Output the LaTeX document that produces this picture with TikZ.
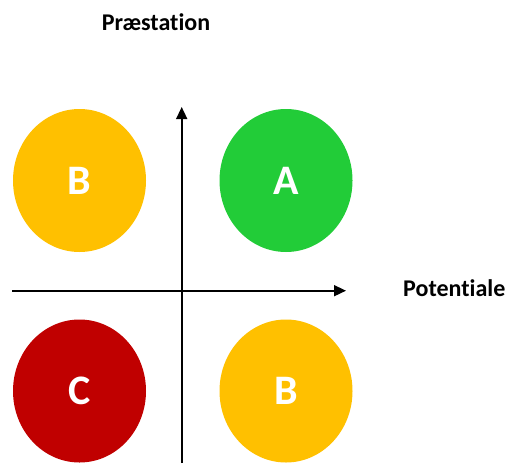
\documentclass[tikz,border=0pt]{standalone}
\usepackage{fontspec}
\setmainfont{Carlito}[Ligatures=NoCommon]
\usetikzlibrary{arrows.meta,shapes.geometric}
\definecolor{cyellow}{RGB}{255,192,0}
\definecolor{cgreen}{RGB}{34,204,56}
\definecolor{cred}{RGB}{192,0,0}
\tikzset{
  blob/.style={ellipse, minimum width=133pt, minimum height=143pt, inner sep=0pt, text=white, font=\bfseries\fontsize{42}{42}\selectfont},
  axis/.style={line width=1.6pt, -{Triangle[length=12pt,width=11pt]}},
  axlabel/.style={font=\bfseries\fontsize{24}{24}\selectfont, text=black, inner sep=0pt}
}
\begin{document}
\begin{tikzpicture}[x=1pt,y=-1pt]
\useasboundingbox (0,0) rectangle (508,463);
\node[blob, fill=cyellow] (b1) at (79.5,180.5) {B};
\node[blob, fill=cgreen] (a) at (286,180.5) {A};
\node[blob, fill=cred] (c) at (79.5,391) {C};
\node[blob, fill=cyellow] (b2) at (286,391) {B};
\coordinate (ybot) at (181.7,463);
\coordinate (ytop) at (181.7,107);
\coordinate (xl) at (12,290.7);
\coordinate (xr) at (346,290.7);
\draw[axis] (ybot) -- (ytop);
\draw[axis] (xl) -- (xr);
\node[axlabel, anchor=west] (pot) at (403,288) {Potentiale};
\node[axlabel] (pra) at (156,22) {Præstation};
\end{tikzpicture}
\end{document}
